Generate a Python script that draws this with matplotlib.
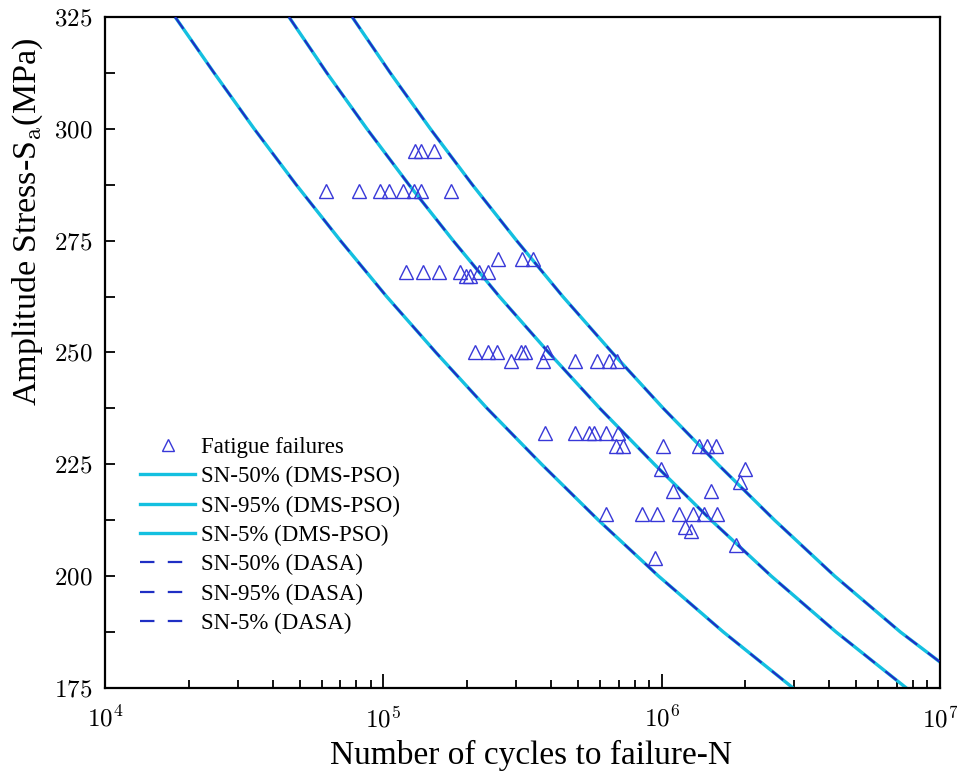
import numpy as np
import matplotlib
matplotlib.use("Agg")
import matplotlib.pyplot as plt
from matplotlib.ticker import FuncFormatter, MultipleLocator, LogLocator

plt.rcParams['mathtext.fontset'] = 'cm'
plt.rcParams['font.family'] = 'Liberation Serif'

# ensayos de fatiga (ciclos, MPa)
fail_N = [6.2e4, 8.2e4, 9.7e4, 1.05e5, 1.18e5, 1.29e5, 1.37e5, 1.75e5,
          1.30e5, 1.37e5, 1.52e5,
          2.59e5, 3.14e5, 3.46e5,
          1.21e5, 1.39e5, 1.59e5, 1.88e5, 1.99e5, 2.05e5, 2.20e5, 2.38e5,
          2.14e5, 2.38e5, 2.57e5, 3.12e5, 3.23e5, 3.86e5,
          2.87e5, 3.76e5, 4.88e5, 5.87e5, 6.49e5, 6.90e5,
          3.81e5, 4.88e5, 5.50e5, 5.72e5, 6.32e5, 6.99e5,
          6.86e5, 7.29e5, 1.01e6, 1.36e6, 1.46e6, 1.57e6,
          9.95e5, 2.0e6, 1.92e6, 1.10e6, 1.50e6,
          6.29e5, 8.48e5, 9.60e5, 1.155e6, 1.30e6, 1.42e6, 1.58e6,
          1.215e6, 1.28e6, 1.845e6, 9.46e5]
fail_S = [286, 286, 286, 286, 286, 286, 286, 286,
          295, 295, 295,
          271, 271, 271,
          268, 268, 268, 268, 267, 267, 268, 268,
          250, 250, 250, 250, 250, 250,
          248, 248, 248, 248, 248, 248,
          232, 232, 232, 232, 232, 232,
          229, 229, 229, 229, 229, 229,
          224, 224, 221, 219, 219,
          214, 214, 214, 214, 214, 214, 214,
          211, 210, 207, 204]

# curvas S-N (log10 N vs S)
curva_S = [325, 312.5, 300, 287.5, 275, 262.5, 250, 237.5, 225, 212.5, 200, 187.5, 175]
sn50_logN = [4.661, 4.797, 4.941, 5.092, 5.251, 5.417, 5.594, 5.778, 5.974, 6.178, 6.394, 6.627, 6.879]
sn5_logN = [4.252, 4.392, 4.536, 4.687, 4.846, 5.012, 5.189, 5.373, 5.569, 5.773, 5.989, 6.222, 6.472]
sn95_S = [325, 312.5, 300, 287.5, 275, 262.5, 250, 237.5, 225, 212.5, 200, 187.5, 180.8]
sn95_logN = [4.888, 5.025, 5.169, 5.320, 5.479, 5.645, 5.822, 6.006, 6.202, 6.406, 6.622, 6.858, 7.0]

curvas = [("SN-50%", sn50_logN, curva_S),
          ("SN-95%", sn95_logN, sn95_S),
          ("SN-5%", sn5_logN, curva_S)]

fig = plt.figure(figsize=(9.57, 7.71), dpi=100)
ax = fig.add_axes([0.1097, 0.1077, 0.8725, 0.8703])

ax.plot(fail_N, fail_S, linestyle='none', marker='^', ms=10.5, mfc='none',
        mec='#3838d8', mew=1.0, label='Fatigue failures', zorder=4)

for nombre, lx, s in curvas:
    ax.plot(10 ** np.array(lx), s, color='#14c0e0', lw=2.4,
            label=nombre + ' (DMS-PSO)', zorder=2)
for nombre, lx, s in curvas:
    ax.plot(10 ** np.array(lx), s, color='#1f2fc4', lw=1.6,
            linestyle=(0, (6.5, 6.0)), label=nombre + ' (DASA)', zorder=3)

ax.set_xscale('log')
ax.set_xlim(1e4, 1e7)
ax.set_ylim(175, 325)
ax.yaxis.set_major_locator(MultipleLocator(25))
ax.yaxis.set_minor_locator(MultipleLocator(12.5))
ax.xaxis.set_major_locator(LogLocator(base=10))
ax.xaxis.set_minor_locator(LogLocator(base=10, subs=np.arange(2, 10)))
ax.xaxis.set_major_formatter(FuncFormatter(lambda v, p: r'$10^{%d}$' % round(np.log10(v))))
ax.yaxis.set_major_formatter(FuncFormatter(lambda v, p: r'$%d$' % v))

ax.tick_params(which='both', direction='in', labelsize=18, width=1.3)
ax.tick_params(axis='y', which='both', length=7, pad=9)
ax.tick_params(axis='x', which='major', length=10, pad=13)
ax.tick_params(axis='x', which='minor', length=6)
for sp in ax.spines.values():
    sp.set_linewidth(1.6)

ax.set_xlabel('Number of cycles to failure-N', fontsize=24)
ax.set_ylabel('Amplitude Stress-S$_\\mathrm{a}$(MPa)', fontsize=24.5)
ax.xaxis.set_label_coords(0.51, -0.078)
ax.yaxis.set_label_coords(-0.072, 0.694)

ax.legend(loc='lower left', bbox_to_anchor=(0.042, 0.08), frameon=False,
          fontsize=16.5, labelspacing=0.36, handlelength=2.4, handletextpad=0.25,
          borderpad=0, borderaxespad=0, markerscale=0.8)

fig.savefig('out.png', dpi=100)
